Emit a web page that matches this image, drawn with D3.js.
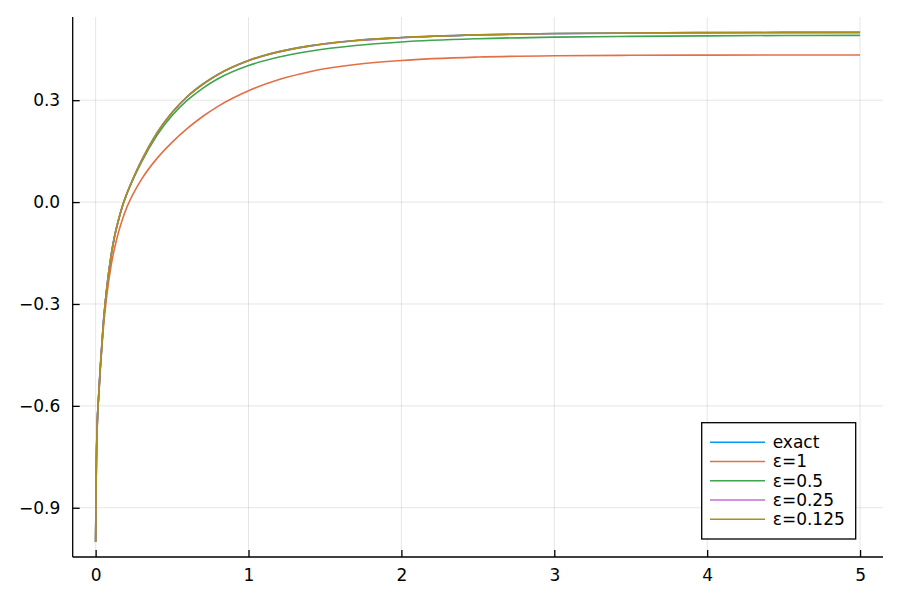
<!DOCTYPE html>
<html>
<head>
    <title></title>
    <meta charset="utf-8">
    <script src="https://d3js.org/d3.v7.min.js"></script>
    <style>
        body { margin: 0; background: #fff; }
        text { font-family: "DejaVu Sans", sans-serif; }
    </style>
</head>
<body>

    <script>

    // values
    var xs      = [0, 0.002, 0.005, 0.01, 0.02, 0.03, 0.05, 0.075, 0.1, 0.125, 0.15, 0.175, 0.2, 0.25, 0.3, 0.4, 0.5, 0.6, 0.7, 0.8, 1.0, 1.2, 1.4, 1.7, 2.0, 2.5, 3.0, 3.5, 4.0, 4.5, 5.0];
    var exact   = [-1.0, -0.88, -0.76, -0.66, -0.568, -0.49, -0.36, -0.245, -0.161, -0.098, -0.052, -0.012, 0.02, 0.074, 0.122, 0.203, 0.264, 0.311, 0.347, 0.376, 0.417, 0.443, 0.46, 0.476, 0.4845, 0.4925, 0.4963, 0.498, 0.499, 0.4996, 0.4998];
    var eps1    = [-1.0, -0.885, -0.77, -0.67, -0.575, -0.50, -0.375, -0.268, -0.19, -0.133, -0.088, -0.051, -0.02, 0.028, 0.067, 0.128, 0.176, 0.217, 0.252, 0.282, 0.328, 0.361, 0.384, 0.405, 0.417, 0.427, 0.431, 0.4322, 0.4328, 0.433, 0.433];
    var eps05   = [-1.0, -0.88, -0.76, -0.66, -0.568, -0.49, -0.36, -0.245, -0.161, -0.098, -0.052, -0.0125, 0.019, 0.072, 0.118, 0.196, 0.255, 0.30, 0.335, 0.363, 0.402, 0.427, 0.444, 0.461, 0.4715, 0.481, 0.4858, 0.488, 0.4895, 0.4906, 0.4908];
    var eps025  = [-1.0, -0.88, -0.76, -0.66, -0.568, -0.49, -0.36, -0.245, -0.161, -0.098, -0.052, -0.012, 0.02, 0.074, 0.122, 0.203, 0.264, 0.311, 0.346, 0.375, 0.416, 0.442, 0.459, 0.475, 0.4837, 0.4918, 0.4956, 0.4974, 0.4984, 0.499, 0.4992];
    var eps0125 = [-1.0, -0.88, -0.76, -0.66, -0.568, -0.49, -0.36, -0.245, -0.161, -0.098, -0.052, -0.012, 0.02, 0.074, 0.122, 0.203, 0.264, 0.311, 0.347, 0.376, 0.417, 0.443, 0.46, 0.476, 0.4845, 0.4925, 0.4963, 0.498, 0.499, 0.4996, 0.4998];

    var names  = ["exact", "ε=1", "ε=0.5", "ε=0.25", "ε=0.125"];
    var colors = ["#009AFA", "#E36F47", "#3EA44E", "#C371D2", "#AC8E18"];
    var xTicks = [0, 1, 2, 3, 4, 5];
    var yTicks = [-0.9, -0.6, -0.3, 0.0, 0.3];

    var series = [exact, eps1, eps05, eps025, eps0125];

    var w = 900, h = 600;
    var pLeft = 72.7, pRight = 883, pTop = 17, pBottom = 557;

    var svg = d3.select("body")
                .append("svg")
                .attr("width", w)
                .attr("height", h);

    var xscale = d3.scaleLinear()
                    .domain([-0.15, 5.15])
                    .range([pLeft, pRight]);
    var yscale = d3.scaleLinear()
                    .domain([-1.045, 0.545])
                    .range([pBottom, pTop]);

    // grid
    svg.append("g")
        .selectAll("line")
        .data(xTicks)
        .enter().append("line")
        .attr("x1", function(d){ return xscale(d); })
        .attr("x2", function(d){ return xscale(d); })
        .attr("y1", pTop)
        .attr("y2", pBottom)
        .attr("stroke", "#000")
        .attr("stroke-opacity", 0.1)
        .attr("stroke-width", 1);
    svg.append("g")
        .selectAll("line")
        .data(yTicks)
        .enter().append("line")
        .attr("x1", pLeft)
        .attr("x2", pRight)
        .attr("y1", function(d){ return yscale(d); })
        .attr("y2", function(d){ return yscale(d); })
        .attr("stroke", "#000")
        .attr("stroke-opacity", 0.1)
        .attr("stroke-width", 1);

    // axes, ticks pointing in
    var xaxis = svg.append("g")
        .attr("transform", "translate(0," + pBottom + ")")
        .call(d3.axisBottom(xscale).tickValues(xTicks).tickFormat(d3.format("d")).tickSizeInner(-7).tickSizeOuter(0).tickPadding(12));
    var yaxis = svg.append("g")
        .attr("transform", "translate(" + pLeft + ",0)")
        .call(d3.axisLeft(yscale).tickValues(yTicks).tickFormat(d3.format(".1f")).tickSizeInner(-7).tickSizeOuter(0).tickPadding(12.5));

    [xaxis, yaxis].forEach(function(a){
        a.select(".domain").attr("stroke", "#000").attr("stroke-width", 1.3);
        a.selectAll(".tick line").attr("stroke", "#000").attr("stroke-width", 1.3);
        a.selectAll(".tick text")
            .attr("fill", "#000")
            .style("font-family", "'DejaVu Sans', sans-serif")
            .style("font-size", "17px");
    });
    yaxis.select(".domain").attr("d", "M0," + pTop + "V" + pBottom);
    xaxis.select(".domain").attr("d", "M" + pLeft + ",0H" + pRight);

    // curves
    var line = d3.line()
        .x(function(d){ return xscale(d[0]); })
        .y(function(d){ return yscale(d[1]); })
        .curve(d3.curveMonotoneX);

    series.forEach(function(s, i){
        svg.append("path")
            .attr("d", line(xs.map(function(x, j){ return [x, s[j]]; })))
            .attr("stroke", colors[i])
            .attr("stroke-width", 1.6)
            .attr("fill", "none");
    });

    // legend
    var lg = svg.append("g")
        .attr("transform", "translate(701.7,422.7)");
    lg.append("rect")
        .attr("width", 154)
        .attr("height", 116.3)
        .attr("fill", "#fff")
        .attr("stroke", "#000")
        .attr("stroke-width", 1.3);
    names.forEach(function(n, i){
        var yy = 19.6 + i * 19.25;
        lg.append("line")
            .attr("x1", 8.3)
            .attr("x2", 63.3)
            .attr("y1", yy)
            .attr("y2", yy)
            .attr("stroke", colors[i])
            .attr("stroke-width", 1.6);
        lg.append("text")
            .attr("x", 71)
            .attr("y", yy)
            .attr("dy", "0.35em")
            .style("font-size", "17px")
            .text(n);
    });

    </script>
</body>

</html>
